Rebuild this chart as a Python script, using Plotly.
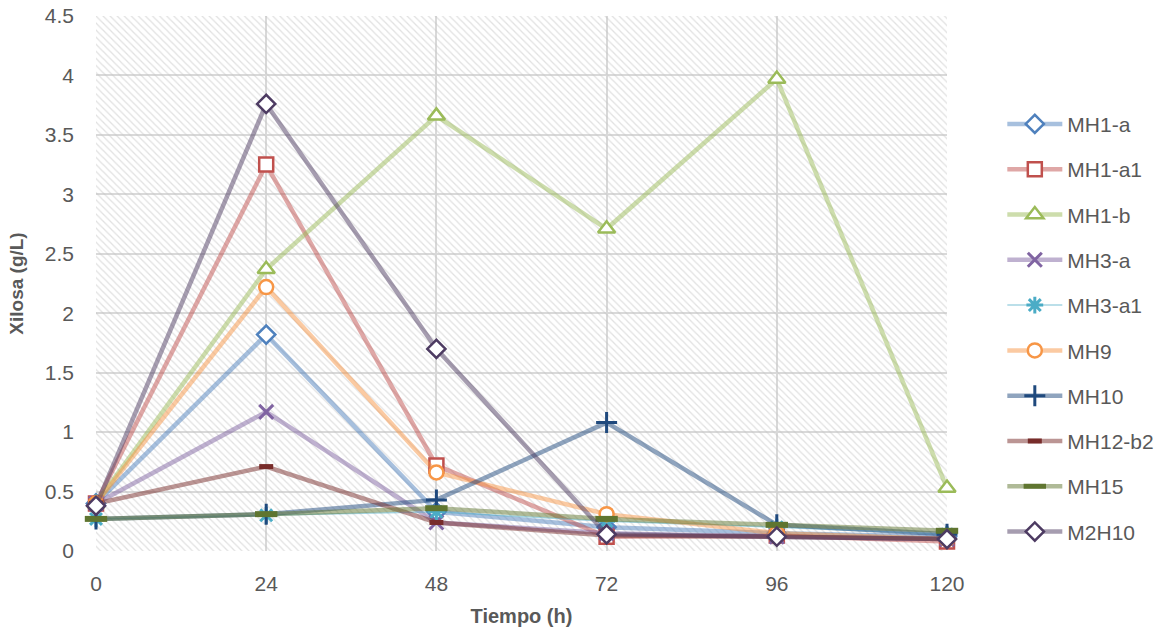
import plotly.graph_objects as go

tiempo = [0, 24, 48, 72, 96, 120]
x_ticks = [0, 24, 48, 72, 96, 120]
y_range = [0, 4.5]

MH1_a = [0.40, 1.82, 0.33, 0.20, 0.15, 0.12]
MH1_a1 = [0.40, 3.25, 0.72, 0.12, 0.13, 0.08]
MH1_b = [0.40, 2.37, 3.66, 2.71, 3.97, 0.53]
MH3_a = [0.40, 1.17, 0.24, 0.15, 0.12, 0.10]
MH3_a1 = [0.27, 0.30, 0.33, 0.25, 0.20, 0.14]
MH9 = [0.40, 2.22, 0.66, 0.31, 0.15, 0.10]
MH10 = [0.27, 0.31, 0.43, 1.08, 0.22, 0.14]
MH12_b2 = [0.40, 0.71, 0.24, 0.13, 0.12, 0.10]
MH15 = [0.27, 0.31, 0.36, 0.27, 0.22, 0.17]
M2H10 = [0.38, 3.76, 1.70, 0.14, 0.12, 0.10]

series = [
    ("MH1-a", MH1_a, "79,129,189", "diamond", 14, "white", 2.5),
    ("MH1-a1", MH1_a1, "192,80,77", "square", 14, "white", 2.5),
    ("MH1-b", MH1_b, "155,187,89", "triangle-up", 15, "white", 2.5),
    ("MH3-a", MH3_a, "128,100,162", "x-thin", 14, None, 3),
    ("MH3-a1", MH3_a1, "75,172,198", "asterisk", 14, None, 3),
    ("MH9", MH9, "247,150,70", "circle", 14, "white", 2.5),
    ("MH10", MH10, "31,73,125", "cross-thin", 15, None, 3),
    ("MH12-b2", MH12_b2, "119,44,42", "line-ew", 10, None, 5),
    ("MH15", MH15, "95,117,48", "line-ew", 16, None, 6),
    ("M2H10", M2H10, "77,59,98", "diamond", 14, "white", 2.5),
]

fig = go.Figure()

# hatched plot-area background
x0, x1 = x_ticks[0], x_ticks[-1]
fig.add_trace(go.Scatter(
    x=[x0, x1, x1, x0, x0], y=[y_range[0], y_range[0], y_range[1], y_range[1], y_range[0]],
    mode="none", fill="toself", fillcolor="rgba(0,0,0,0)",
    fillpattern=dict(shape="\\", fgcolor="#c4c4c4", bgcolor="rgba(0,0,0,0)", size=5, solidity=0.25),
    showlegend=False, hoverinfo="skip"))

for name, vals, rgb, sym, size, fill, lw in series:
    line_w = 1.5 if name == "MH3-a1" else 4.5
    fig.add_trace(go.Scatter(
        x=tiempo, y=vals, name=name, mode="lines+markers",
        legendgroup=name,
        line=dict(color=f"rgba({rgb},0.5)", width=line_w),
        marker=dict(symbol=sym, size=size,
                    color=fill if fill else f"rgb({rgb})",
                    line=dict(color=f"rgb({rgb})", width=lw)),
        cliponaxis=False))

fig.update_layout(
    width=1162, height=637,
    margin=dict(l=96, r=215, t=16, b=86, autoexpand=False),
    paper_bgcolor="white", plot_bgcolor="white",
    font=dict(family="Liberation Sans, Arial, sans-serif", color="#595959", size=21),
    legend=dict(x=1.065, y=0.836, xanchor="left", yanchor="top",
                traceorder="grouped", tracegroupgap=15, itemwidth=55,
                font=dict(size=21, color="#595959")),
    xaxis=dict(range=[x0, x1], tickvals=x_ticks, showgrid=True, gridcolor="#d9d9d9",
               gridwidth=1.5, zeroline=False, showline=False, ticks="", automargin=False,
               ticklabelstandoff=18, tickfont=dict(size=21),
               title=dict(text="<b>Tiempo (h)</b>", font=dict(size=20, color="#595959"), standoff=14)),
    yaxis=dict(range=y_range, dtick=0.5, tickformat="~g", showgrid=True, gridcolor="#d9d9d9",
               gridwidth=1.5, zeroline=False, showline=False, ticks="", automargin=False,
               ticklabelstandoff=21, tickfont=dict(size=21),
               title=dict(text="<b>Xilosa (g/L)</b>", font=dict(size=19, color="#595959"), standoff=16)),
)

fig.write_html("out.html")
